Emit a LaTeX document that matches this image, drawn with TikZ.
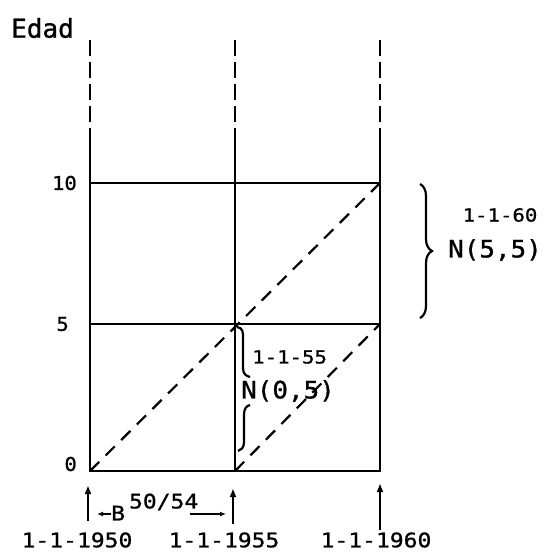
\documentclass[tikz,border=0pt]{standalone}
\usepackage{fontspec}
\setmonofont[FakeBold=1]{DejaVu Sans Mono}
\newfontfamily\twwide[FakeStretch=1.15,FakeBold=1]{DejaVu Sans Mono}
\newfontfamily\twmid[FakeStretch=1.08,FakeBold=1]{DejaVu Sans Mono}
\usetikzlibrary{arrows.meta,decorations.pathreplacing}
\begin{document}
\begin{tikzpicture}[x=1pt,y=-1pt,
  gridline/.style={line width=2.8pt},
  ext/.style={line width=2.2pt, dash pattern=on 16pt off 6pt},
  diag/.style={line width=2.2pt, dash pattern=on 13pt off 9pt},
  datelab/.style={font=\twwide\fontsize{20}{20}\selectfont, inner sep=0pt},
  smalllab/.style={font=\twwide\fontsize{18}{18}\selectfont, inner sep=0pt},
  ticklab/.style={font=\twmid\fontsize{19}{19}\selectfont, inner sep=0pt},
  big/.style={font=\twmid\fontsize{24}{24}\selectfont, inner sep=0pt},
  up/.style={line width=2pt, -{Latex[open,length=9pt,width=7pt]}},
  sm/.style={line width=1.8pt, -{Latex[open,length=6pt,width=5pt]}},
  bracepen/.style={line width=2.2pt},
]
\useasboundingbox (0,0) rectangle (546,552);
% grid coordinates
\foreach \n/\x in {A/90,B/235,C/380}{
  \coordinate (\n0) at (\x,471);
  \coordinate (\n5) at (\x,324);
  \coordinate (\n10) at (\x,183);
  \coordinate (\n-mid) at (\x,140);
  \coordinate (\n-top) at (\x,40);
}
% box
\draw[gridline] (A-mid) -- (A0) -- (C0) -- (C-mid);
\draw[gridline] (B-mid) -- (B0);
\draw[gridline] (A10) -- (C10);
\draw[gridline] (A5) -- (C5);
% dashed extensions
\draw[ext] (A-top) -- (A-mid);
\draw[ext] (B-top) -- (B-mid);
\draw[ext] (C-top) -- (C-mid);
% diagonals
\draw[diag] (A0) -- (C10);
\draw[diag] (B0) -- (C5);
% axis labels
\node[font=\ttfamily\fontsize{26}{26}\selectfont, inner sep=0pt, anchor=west] (edad) at (11,28) {Edad};
\node[ticklab, anchor=east] (l10) at (77,183) {10};
\node[ticklab, anchor=east] (l5) at (69,324) {5};
\node[ticklab, anchor=east] (l0) at (77,464) {0};
% right brace
\draw[bracepen, decorate, decoration={brace, amplitude=12pt}] (420,184) -- (420,318);
\node[smalllab] (d60) at (500,215) {1-1-60};
\node[big] (n55) at (495,250) {N(5,5)};
% small brace (interrupted by text)
\draw[bracepen] (237,327) .. controls (243,328) and (243,332) .. (243,338) -- (243,368) .. controls (243,374) and (246,376) .. (250,377);
\draw[bracepen] (250,405) .. controls (246,406) and (244,409) .. (244,415) -- (244,442) .. controls (244,448) and (241,450) .. (238,451);
\node[smalllab, anchor=west] (d55) at (252,357) {1-1-55};
\node[big, anchor=west] (n05) at (241,391) {N(0,5)};
% bottom dates
\node[datelab] (t50) at (77,540) {1-1-1950};
\node[datelab] (t55) at (224,540) {1-1-1955};
\node[datelab] (t60) at (376,540) {1-1-1960};
\coordinate (p50) at (88,485);
\coordinate (p55) at (233,488);
\coordinate (p60) at (380,483);
\draw[up] (88,521) -- (p50);
\draw[up] (233,524) -- (p55);
\draw[up] (380,530) -- (p60);
% B label
\node[anchor=west, inner sep=0pt] (b) at (111,507) {\twwide\fontsize{20}{20}\selectfont B\hspace{4pt}\raisebox{12pt}{50/54}};
\coordinate (bl) at (97,514);
\coordinate (br) at (226,514);
\draw[sm] (b.west |- bl) -- (bl);
\draw[sm] ([xshift=-8pt]b.east |- br) -- (br);
\end{tikzpicture}
\end{document}
